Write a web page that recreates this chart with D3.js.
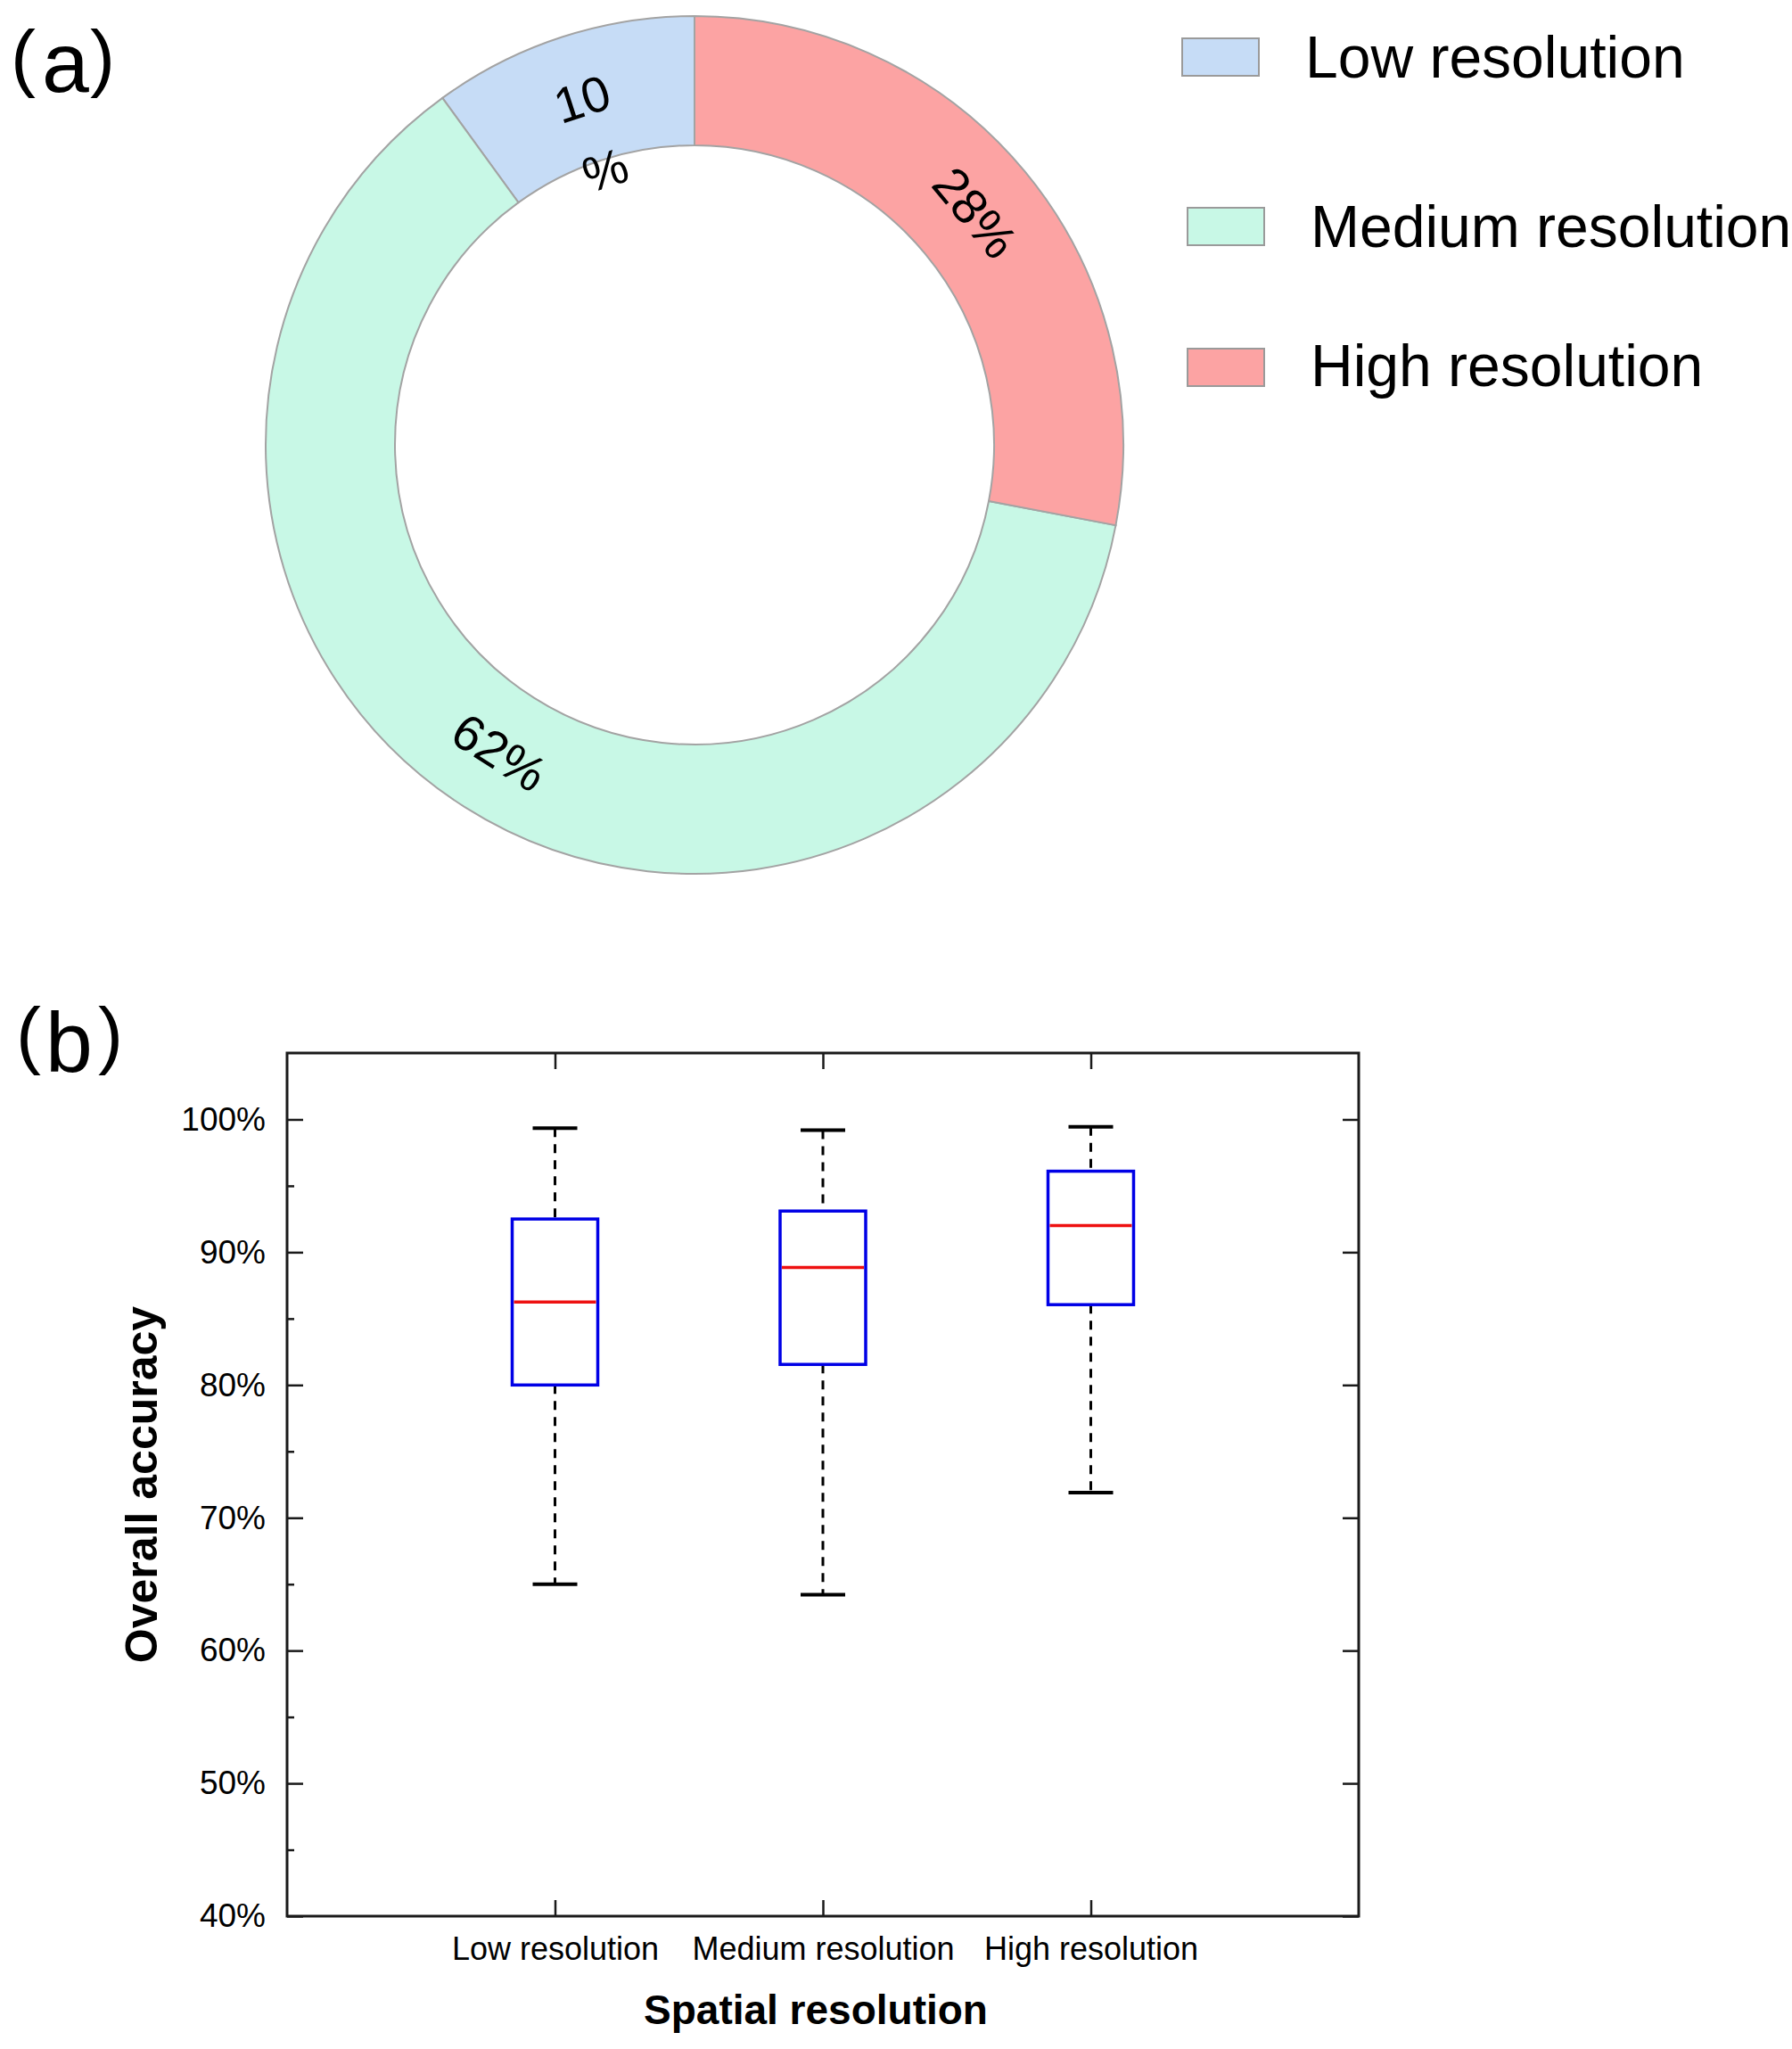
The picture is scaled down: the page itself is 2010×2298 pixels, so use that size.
<!DOCTYPE html>
<html>
<head>
<meta charset="utf-8">
<script src="https://cdn.jsdelivr.net/npm/d3@7"></script>
<style>
  html, body { margin: 0; padding: 0; background: #fff; }
  svg { display: block; }
  text { font-family: "Liberation Sans", Arial, sans-serif; fill: #000; }
</style>
</head>
<body>
<svg id="chart" width="2010" height="2298"></svg>
<script>
// ---------- data ----------
const categories = ["Low resolution", "Medium resolution", "High resolution"];
const shareValues = [10, 62, 28];               // percent of studies (panel a)
const sliceColors = ["#c6dcf6", "#c8f8e6", "#fca3a3"];

// box plot statistics (panel b): min, Q1, median, Q3, max  (overall accuracy, %)
const boxMin    = [65.0, 64.2, 71.9];
const boxQ1     = [80.0, 81.55, 86.05];
const boxMedian = [86.25, 88.85, 92.0];
const boxQ3     = [92.5, 93.1, 96.1];
const boxMax    = [99.35, 99.2, 99.45];

const yMajorTicks = [40, 50, 60, 70, 80, 90, 100];
const yMinorTicks = [45, 55, 65, 75, 85, 95];
const yDomain = [40, 105];

(function draw() {
const svg = d3.select("#chart");
svg.append("rect").attr("width", 2010).attr("height", 2298).attr("fill", "#fff");

// ---------- panel labels ----------
function panelLabel(letter, baseLetter, baseParen, xs) {
  const g = svg.append("g");
  g.append("text").attr("x", xs[0]).attr("y", baseParen).attr("font-size", 84).text("(");
  g.append("text").attr("x", xs[1]).attr("y", baseLetter).attr("font-size", 95).text(letter);
  g.append("text").attr("x", xs[2]).attr("y", baseParen).attr("font-size", 84).text(")");
}
panelLabel("a", 103, 93, [12, 47, 101]);
panelLabel("b", 1202, 1189, [18, 51, 110]);

// ---------- panel a: donut ----------
const cx = 779, cy = 499, rOuter = 481, rInner = 336;
const gPie = svg.append("g").attr("transform", `translate(${cx},${cy})`);
const pieData = categories.map((c, i) => ({ cat: c, value: shareValues[i], color: sliceColors[i] }));
const pie = d3.pie().sort(null).value(d => d.value).startAngle(0).endAngle(-2 * Math.PI);
const arcs = pie(pieData);
const arc = d3.arc().innerRadius(rInner).outerRadius(rOuter);

gPie.selectAll("path.slice").data(arcs).join("path")
  .attr("class", "slice")
  .attr("d", arc)
  .attr("fill", d => d.data.color)
  .attr("stroke", "#a3a3a3")
  .attr("stroke-width", 2);

arcs.forEach(d => {
  const [lx, ly] = arc.centroid(d);
  const mid = (d.startAngle + d.endAngle) / 2;
  let deg = mid * 180 / Math.PI;
  deg = ((deg % 360) + 360) % 360;
  let rot = deg;
  if (deg > 90 && deg < 270) rot = deg - 180;
  if (rot > 180) rot -= 360;
  const t = gPie.append("text")
    .attr("transform", `translate(${lx},${ly}) rotate(${rot})`)
    .attr("text-anchor", "middle")
    .attr("dominant-baseline", "central")
    .attr("font-size", 56);
  if (d.data.value < 15) {
    t.append("tspan").attr("x", 0).attr("dy", 0).text(d.data.value);
    t.append("tspan").attr("x", 0).attr("dy", 84).text("%");
  } else {
    t.text(d.data.value + "%");
  }
});

// legend
const legendRows = [
  { rx: 1326, ry: 43, tx: 1464, ty: 87 },
  { rx: 1332, ry: 233, tx: 1470, ty: 277 },
  { rx: 1332, ry: 391, tx: 1470, ty: 433 }
];
categories.forEach((c, i) => {
  const L = legendRows[i];
  svg.append("rect").attr("x", L.rx).attr("y", L.ry).attr("width", 86).attr("height", 42)
    .attr("fill", sliceColors[i]).attr("stroke", "#9a9a9a").attr("stroke-width", 2);
  svg.append("text").attr("x", L.tx).attr("y", L.ty).attr("font-size", 66).text(c);
});

// ---------- panel b: box plot ----------
const pLeft = 322, pRight = 1524, pTop = 1181, pBottom = 2149;
const x = d3.scalePoint().domain(categories).range([pLeft, pRight]).padding(1);
const y = d3.scaleLinear().domain(yDomain).range([pBottom, pTop]);

const axisColor = "#1a1a1a";
function styleAxis(g) {
  g.select(".domain").remove();
  g.selectAll(".tick line").attr("stroke", axisColor).attr("stroke-width", 2.5);
  g.selectAll(".tick text").attr("fill", "#000").attr("font-family", "Liberation Sans, Arial, sans-serif");
}

svg.append("g").attr("transform", `translate(${pLeft},0)`)
  .call(d3.axisLeft(y).tickValues(yMajorTicks).tickSize(-18).tickPadding(24).tickFormat(d => d + "%"))
  .call(styleAxis)
  .call(g => g.selectAll(".tick text").attr("font-size", 37));
svg.append("g").attr("transform", `translate(${pLeft},0)`)
  .call(d3.axisLeft(y).tickValues(yMinorTicks).tickSize(-8).tickFormat(""))
  .call(styleAxis);
svg.append("g").attr("transform", `translate(${pRight},0)`)
  .call(d3.axisRight(y).tickValues(yMajorTicks).tickSize(-18).tickFormat(""))
  .call(styleAxis);
svg.append("g").attr("transform", `translate(0,${pBottom})`)
  .call(d3.axisBottom(x).tickSize(-18).tickPadding(23))
  .call(styleAxis)
  .call(g => g.selectAll(".tick text").attr("font-size", 36));
svg.append("g").attr("transform", `translate(0,${pTop})`)
  .call(d3.axisTop(x).tickSize(-18).tickFormat(""))
  .call(styleAxis);

svg.append("rect").attr("x", pLeft).attr("y", pTop).attr("width", pRight - pLeft).attr("height", pBottom - pTop)
  .attr("fill", "none").attr("stroke", axisColor).attr("stroke-width", 3);

// boxes
const boxW = 96, capW = 50;
const boxes = categories.map((c, i) => ({
  cat: c, min: boxMin[i], q1: boxQ1[i], med: boxMedian[i], q3: boxQ3[i], max: boxMax[i]
}));
const gb = svg.append("g");
boxes.forEach(b => {
  const xc = x(b.cat);
  gb.append("line").attr("x1", xc).attr("x2", xc).attr("y1", y(b.max)).attr("y2", y(b.q3))
    .attr("stroke", "#000").attr("stroke-width", 3).attr("stroke-dasharray", "10,8");
  gb.append("line").attr("x1", xc).attr("x2", xc).attr("y1", y(b.q1)).attr("y2", y(b.min))
    .attr("stroke", "#000").attr("stroke-width", 3).attr("stroke-dasharray", "10,8");
  [b.max, b.min].forEach(v => {
    gb.append("line").attr("x1", xc - capW / 2).attr("x2", xc + capW / 2)
      .attr("y1", y(v)).attr("y2", y(v)).attr("stroke", "#000").attr("stroke-width", 4);
  });
  gb.append("rect").attr("x", xc - boxW / 2).attr("y", y(b.q3)).attr("width", boxW)
    .attr("height", y(b.q1) - y(b.q3)).attr("fill", "none")
    .attr("stroke", "#0000e6").attr("stroke-width", 3.5);
  gb.append("line").attr("x1", xc - boxW / 2 + 2).attr("x2", xc + boxW / 2 - 2)
    .attr("y1", y(b.med)).attr("y2", y(b.med)).attr("stroke", "#ee1111").attr("stroke-width", 3.5);
});

// axis titles
svg.append("text").attr("transform", `translate(176,${(pTop + pBottom) / 2}) rotate(-90)`)
  .attr("text-anchor", "middle").attr("font-weight", "bold").attr("font-size", 50)
  .text("Overall accuracy");
svg.append("text").attr("x", 915).attr("y", 2270)
  .attr("text-anchor", "middle").attr("font-weight", "bold").attr("font-size", 46)
  .text("Spatial resolution");
})();
</script>
</body>
</html>
